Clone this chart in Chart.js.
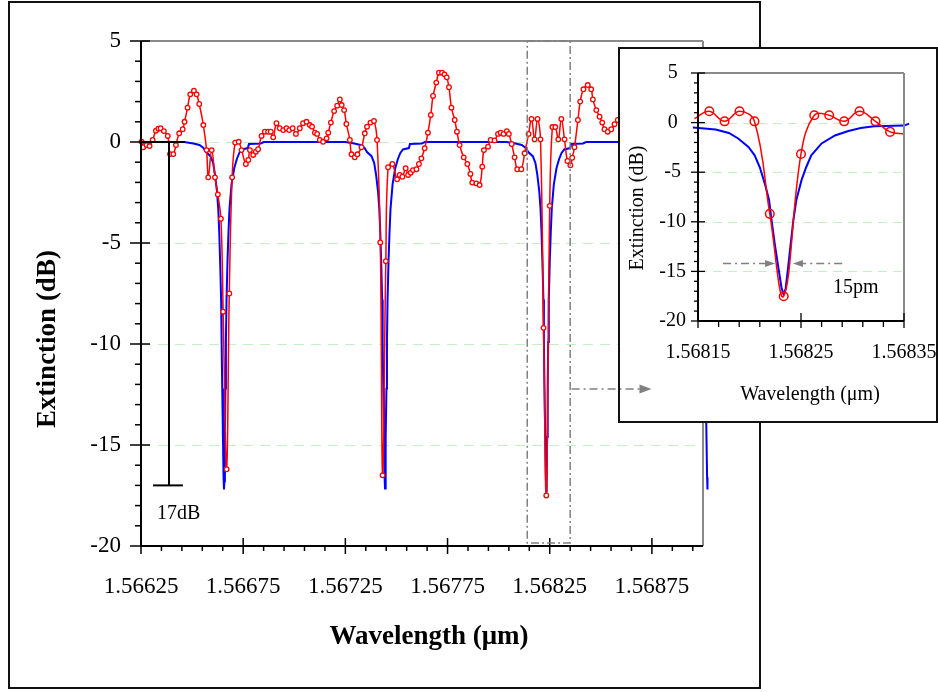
<!DOCTYPE html>
<html>
<head>
<meta charset="utf-8">
<script src="https://cdn.jsdelivr.net/npm/chart.js@4.4.1/dist/chart.umd.min.js"></script>
<style>
  html, body { margin: 0; padding: 0; background: #fff; }
  #page { position: relative; width: 938px; height: 692px; overflow: hidden; background: #fff; }
  #frame { position: absolute; left: 8px; top: 1px; width: 753px; height: 688px; box-sizing: border-box; border: 2px solid #111; }
  #main { position: absolute; left: 0; top: 0; }
  #insetBox { position: absolute; left: 618px; top: 47px; width: 320px; height: 376px; box-sizing: border-box; border: 2px solid #111; background: #fff; }
  #inset { position: absolute; left: 0; top: 0; }
</style>
</head>
<body>
<div id="page">
  <div id="frame"></div>
  <canvas id="main" width="938" height="692"></canvas>
  <div id="insetBox"><canvas id="inset" width="316" height="372"></canvas></div>
</div>
<script>
// measured transmission (red circles), wavelength in um / extinction in dB
const redWl = [
  1.566253, 1.566261, 1.566277, 1.566292, 1.566307, 1.566323, 1.566335, 1.566346, 1.566362, 1.566381,
  1.566392, 1.566408, 1.566421, 1.566437, 1.566454, 1.566463, 1.566478, 1.566491, 1.566509, 1.566522,
  1.566535, 1.566555, 1.566571, 1.566579, 1.566596, 1.566612, 1.566626, 1.566641, 1.566652, 1.566669,
  1.566682, 1.566696, 1.566711, 1.566728, 1.566742, 1.566763, 1.566775, 1.566783, 1.566799, 1.566812,
  1.566823, 1.56684, 1.566856, 1.566872, 1.566885, 1.566897, 1.566913, 1.566929, 1.566946, 1.566962,
  1.566975, 1.566992, 1.567008, 1.567027, 1.567043, 1.56706, 1.567076, 1.567087, 1.567101, 1.567112,
  1.567125, 1.567141, 1.567158, 1.567166, 1.567179, 1.567195, 1.56721, 1.567223, 1.567232, 1.567244,
  1.567255, 1.567272, 1.56728, 1.567296, 1.567309, 1.567329, 1.567345, 1.567356, 1.567373, 1.56739,
  1.567405, 1.567421, 1.567432, 1.567448, 1.567459, 1.56748, 1.567503, 1.567516, 1.567529, 1.567545,
  1.567557, 1.56757, 1.567581, 1.567598, 1.56761, 1.567622, 1.567638, 1.567654, 1.567668, 1.567679,
  1.567695, 1.567708, 1.567723, 1.567735, 1.567746, 1.567757, 1.567769, 1.567785, 1.567796, 1.567809,
  1.567829, 1.567847, 1.567862, 1.567871, 1.567891, 1.567907, 1.56792, 1.567928, 1.567948, 1.567961,
  1.56798, 1.567997, 1.56801, 1.568024, 1.56804, 1.56805, 1.568064, 1.568078, 1.568091, 1.568111,
  1.568127, 1.5681465, 1.568161, 1.5681758, 1.5681903, 1.5682048, 1.5682197, 1.5682332, 1.56825, 1.5682629,
  1.5682774, 1.5682919, 1.5683068, 1.5683223, 1.5683365, 1.568351, 1.56836, 1.568371, 1.568388, 1.568399,
  1.568415, 1.568436, 1.568453, 1.568461, 1.568478, 1.568494, 1.568507, 1.568518, 1.568534, 1.568551,
  1.568567, 1.568583, 1.568598
];
const redDb = [
  0.01, -0.26, -0.15, -0.2, 0.1, 0.56, 0.66, 0.68, 0.54, 0.3,
  -0.6, -0.6, -0.15, 0.43, 0.63, 1.0, 1.7, 2.36, 2.54, 2.36,
  1.88, 0.84, -0.4, -1.75, -0.4, -1.75, -2.6, -3.8, -8.4, -16.2,
  -7.5, -1.75, -0.03, 0.01, -0.4, -1.09, -0.89, -0.4, -0.64, -0.48,
  -0.36, 0.3, 0.51, 0.51, 0.51, 0.23, 0.93, 0.68, 0.59, 0.68,
  0.59, 0.68, 0.4, 0.68, 0.93, 1.0, 0.84, 0.76, 0.46, 0.4,
  0.1, 0.01, 0.18, 0.46, 0.96, 1.53, 1.8, 2.11, 1.83, 1.58,
  0.89, 0.1, -0.61, -0.76, -0.61, -0.26, 0.43, 0.76, 0.96, 1.04,
  0.1, -4.97, -16.5, -5.9, -1.25, -1.09, -1.85, -1.63, -1.72, -1.3,
  -1.63, -1.52, -1.39, -1.35, -1.09, -0.81, -0.31, 0.46, 1.34, 2.28,
  2.94, 3.43, 3.43, 3.35, 3.2, 2.71, 1.7, 1.09, 0.51, -0.15,
  -0.76, -1.09, -1.58, -2.01, -2.05, -2.13, -1.22, -0.4, -0.23, 0.1,
  0.08, 0.4, 0.46, 0.4, 0.54, 0.4, -0.1, -0.76, -1.35, -1.35,
  -0.56, 0.4, 1.14, 0.13, 1.14, 0.13, -9.2, -17.5, -3.16, 0.74,
  0.74, 0.13, 1.14, 0.13, -0.94, -1.15, -0.78, -0.26, 1.09, 2.0,
  2.61, 2.82, 2.61, 2.11, 1.58, 1.25, 0.96, 0.63, 0.51, 0.63,
  0.88, 1.09, 1.2
];

// fitted response (blue line)
const blueWl = [
  1.56625,
  1.566461, 1.566506, 1.566536, 1.566556, 1.566568, 1.56659, 1.566603, 1.566612, 1.566622, 1.566628,
  1.566633, 1.566638, 1.566642, 1.5666445, 1.5666475, 1.566651, 1.566654, 1.566656, 1.566658, 1.5666605,
  1.566663, 1.5666655, 1.5666685, 1.5666735, 1.566678, 1.566683, 1.566693, 1.566706, 1.566719, 1.566731,
  1.566744, 1.566773, 1.566778, 1.566836, 1.566851,
  1.567249, 1.567294, 1.567324, 1.567344, 1.567356, 1.567378, 1.567391, 1.5674, 1.56741, 1.567416,
  1.567421, 1.567426, 1.56743, 1.5674325, 1.5674355, 1.567439, 1.567442, 1.567444, 1.567446, 1.5674485,
  1.567451, 1.5674535, 1.5674565, 1.5674615, 1.567466, 1.567471, 1.567481, 1.567494, 1.567507, 1.567519,
  1.567532, 1.567561, 1.567566, 1.567624, 1.567639,
  1.568038, 1.568083, 1.568113, 1.568133, 1.568145, 1.568167, 1.56818, 1.568189, 1.568199, 1.568205,
  1.56821, 1.568215, 1.568219, 1.5682215, 1.5682245, 1.568228, 1.568231, 1.568233, 1.568235, 1.5682375,
  1.56824, 1.5682425, 1.5682455, 1.5682505, 1.568255, 1.56826, 1.56827, 1.568283, 1.568296, 1.568308,
  1.568321, 1.56835, 1.568355, 1.568413, 1.568428,
  1.568827, 1.568872, 1.568902, 1.568922, 1.568934, 1.568956, 1.568969, 1.568978, 1.568988, 1.568994,
  1.568999, 1.569004, 1.569008, 1.5690105, 1.5690135, 1.569017, 1.56902, 1.569022
];
const blueDb = [
  0,
  0, -0.07, -0.15, -0.3, -0.5, -0.7, -1.04, -1.6, -2.46, -3.3,
  -4.5, -6.2, -7.8, -9.9, -12.2, -14.6, -16.6, -17.2, -16.8, -14.6,
  -12.2, -9.9, -7.8, -5.8, -4.5, -3.3, -2.1, -1.3, -0.84, -0.54,
  -0.37, -0.3, -0.1, -0.07, 0,
  0, -0.07, -0.15, -0.3, -0.5, -0.7, -1.04, -1.6, -2.46, -3.3,
  -4.5, -6.2, -7.8, -9.9, -12.2, -14.6, -16.6, -17.15, -16.8, -14.6,
  -12.2, -9.9, -7.8, -5.8, -4.5, -3.3, -2.1, -1.3, -0.84, -0.54,
  -0.37, -0.3, -0.1, -0.07, 0,
  0, -0.07, -0.15, -0.3, -0.5, -0.7, -1.04, -1.6, -2.46, -3.3,
  -4.5, -6.2, -7.8, -9.9, -12.2, -14.6, -16.6, -17.3, -16.8, -14.6,
  -12.2, -9.9, -7.8, -5.8, -4.5, -3.3, -2.1, -1.3, -0.84, -0.54,
  -0.37, -0.3, -0.1, -0.07, 0,
  0, -0.07, -0.15, -0.3, -0.5, -0.7, -1.04, -1.6, -2.46, -3.3,
  -4.5, -6.2, -7.8, -9.9, -12.2, -14.6, -16.6, -17.2
];

// axes
const mainXRange = [1.56625, 1.569];
const insetXRange = [1.56815, 1.56835];
const mainXTicks = [1.56625, 1.56675, 1.56725, 1.56775, 1.56825, 1.56875];
const mainYTicks = [5, 0, -5, -10, -15, -20];
const insetXTicks = [1.56815, 1.56825, 1.56835];
const insetYTicks = [5, 0, -5, -10, -15, -20];
const gridLevels = [0, -5, -10, -15];

const serif = '"Liberation Serif", "Times New Roman", serif';
const gridColor = '#c4f0c4';
const annoGray = '#808080';

const redPts = redWl.map((w, i) => ({ x: w, y: redDb[i] }));
const bluePts = blueWl.map((w, i) => ({ x: w, y: blueDb[i] }));
const insetRed = redPts.filter(p => p.x >= 1.568146 && p.x <= 1.568352);
const insetBlue = bluePts.filter(p => p.x >= 1.568144 && p.x <= 1.568356);

function seg(ctx, x1, y1, x2, y2) {
  ctx.beginPath(); ctx.moveTo(x1, y1); ctx.lineTo(x2, y2); ctx.stroke();
}

function head(ctx, tx, ty, dir, len, half) {
  ctx.beginPath();
  ctx.moveTo(tx, ty);
  ctx.lineTo(tx - dir * len, ty - half);
  ctx.lineTo(tx - dir * len, ty + half);
  ctx.closePath();
  ctx.fill();
}

// range set after data limits so that points past the edge are still drawn
function fixRange(r) {
  return s => { s.min = r[0]; s.max = r[1]; };
}

function decor(cfg) {
  return {
    id: 'decor',
    beforeDatasetsDraw(chart) {
      const { ctx, chartArea: a, scales: { y } } = chart;
      ctx.save();
      ctx.strokeStyle = gridColor;
      ctx.lineWidth = 1;
      ctx.setLineDash(cfg.gridDash);
      gridLevels.forEach(v => { const py = Math.round(y.getPixelForValue(v)) + 0.5; seg(ctx, a.left, py, a.right, py); });
      ctx.restore();
    },
    afterDatasetsDraw(chart) {
      const { ctx, chartArea: a, scales: { x, y } } = chart;
      ctx.save();
      // plot frame, grey top/right
      ctx.strokeStyle = '#8a8a8a';
      ctx.lineWidth = 2;
      seg(ctx, a.left, a.top, a.right, a.top);
      seg(ctx, a.right, a.top, a.right, a.bottom);
      // axes
      ctx.strokeStyle = '#000';
      ctx.lineWidth = cfg.axisWidth;
      seg(ctx, a.left, a.top, a.left, a.bottom);
      seg(ctx, a.left, a.bottom, a.right, a.bottom);
      ctx.lineWidth = cfg.tickWidth;
      // y ticks, 1 dB minor, 5 dB major
      for (let v = y.min; v <= y.max; v += 1) {
        const py = y.getPixelForValue(v);
        if (v % 5 === 0) seg(ctx, a.left - cfg.yMaj[0], py, a.left + cfg.yMaj[1], py);
        else seg(ctx, a.left - cfg.yMin[0], py, a.left + cfg.yMin[1], py);
      }
      // x ticks
      const n = Math.floor((x.max - x.min) / cfg.xMinorStep + 1e-6);
      for (let k = 0; k <= n; k++) {
        const v = x.min + k * cfg.xMinorStep;
        const px = x.getPixelForValue(v);
        if (k % 5 === 0) seg(ctx, px, a.bottom - cfg.xMaj[0], px, a.bottom + cfg.xMaj[1]);
        else seg(ctx, px, a.bottom - cfg.xMin[0], px, a.bottom + cfg.xMin[1]);
      }
      ctx.restore();
      ctx.save();
      cfg.extra(ctx, x, y);
      ctx.restore();
      // axis titles
      ctx.save();
      ctx.fillStyle = '#000';
      ctx.textAlign = 'center';
      ctx.textBaseline = 'middle';
      ctx.font = cfg.titleFont;
      ctx.fillText(cfg.xTitle.text, cfg.xTitle.x, cfg.xTitle.y);
      ctx.translate(cfg.yTitle.x, cfg.yTitle.y);
      ctx.rotate(-Math.PI / 2);
      ctx.fillText(cfg.yTitle.text, 0, 0);
      ctx.restore();
    }
  };
}

// dash-dot pointer from the zoom window to the inset (main chart values)
function pointer(ctx, x, y, dx, dy) {
  ctx.strokeStyle = annoGray;
  ctx.fillStyle = annoGray;
  ctx.lineWidth = 1.5;
  const ay = y.getPixelForValue(-12.23) - dy;
  const tip = x.getPixelForValue(1.568748) - dx;
  ctx.setLineDash([8, 4, 2, 4]);
  seg(ctx, x.getPixelForValue(1.568357) - dx, ay, tip - 11, ay);
  ctx.setLineDash([]);
  head(ctx, tip, ay, 1, 12, 4.5);
}

function mainExtra(ctx, x, y) {
  // 17 dB depth bar
  ctx.strokeStyle = '#000';
  ctx.lineWidth = 2;
  seg(ctx, x.getPixelForValue(1.566387), y.getPixelForValue(0), x.getPixelForValue(1.566387), y.getPixelForValue(-17));
  seg(ctx, x.getPixelForValue(1.56625), y.getPixelForValue(0), x.getPixelForValue(1.566465), y.getPixelForValue(0));
  seg(ctx, x.getPixelForValue(1.566309), y.getPixelForValue(-17), x.getPixelForValue(1.566455), y.getPixelForValue(-17));
  ctx.fillStyle = '#000';
  ctx.font = '20px ' + serif;
  ctx.textBaseline = 'middle';
  ctx.fillText('17dB', x.getPixelForValue(1.566328), y.getPixelForValue(-18.4));
  // zoom window
  ctx.strokeStyle = annoGray;
  ctx.lineWidth = 1.5;
  ctx.setLineDash([8, 3, 2, 3]);
  const bx1 = x.getPixelForValue(1.56814), bx2 = x.getPixelForValue(1.56835);
  const by1 = y.getPixelForValue(5), by2 = y.getPixelForValue(-19.85);
  ctx.strokeRect(bx1, by1, bx2 - bx1, by2 - by1);
  ctx.setLineDash([]);
  pointer(ctx, x, y, 0, 0);
}

function insetExtra(ctx, x, y) {
  ctx.strokeStyle = annoGray;
  ctx.fillStyle = annoGray;
  ctx.lineWidth = 1.5;
  const fy = y.getPixelForValue(-14.2);
  ctx.setLineDash([8, 4, 2, 4]);
  const lt = x.getPixelForValue(1.5682248), rt = x.getPixelForValue(1.5682422);
  seg(ctx, x.getPixelForValue(1.5681743), fy, lt - 9, fy);
  seg(ctx, x.getPixelForValue(1.56829), fy, rt + 9, fy);
  ctx.setLineDash([]);
  head(ctx, lt, fy, 1, 10, 3.5);
  head(ctx, rt, fy, -1, 10, 3.5);
  ctx.fillStyle = '#000';
  ctx.font = '20px ' + serif;
  ctx.textBaseline = 'middle';
  ctx.fillText('15pm', x.getPixelForValue(1.568281), y.getPixelForValue(-16.6));
  // the pointer arrow runs on top of the inset box
  const box = document.getElementById('inset').getBoundingClientRect();
  const page = document.getElementById('main').getBoundingClientRect();
  pointer(ctx, mainChart.scales.x, mainChart.scales.y, box.left - page.left, box.top - page.top);
}

const mainChart = new Chart(document.getElementById('main'), {
  type: 'line',
  data: {
    datasets: [
      { label: 'measured', data: redPts, borderColor: '#ff0000', borderWidth: 1.5, tension: 0.4,
        pointRadius: 2.3, pointBorderWidth: 1.3, pointBorderColor: '#ff0000', pointBackgroundColor: '#fff',
        clip: false, order: 0 },
      { label: 'fit', data: bluePts, borderColor: '#0000ff', borderWidth: 2, tension: 0,
        pointRadius: 0, clip: false, order: 1 }
    ]
  },
  options: {
    responsive: false,
    animation: false,
    devicePixelRatio: 1,
    layout: { padding: { left: 0, top: 41, right: 235, bottom: 0 } },
    elements: { line: { capBezierPoints: false } },
    plugins: { legend: { display: false }, tooltip: { enabled: false } },
    scales: {
      x: {
        type: 'linear', bounds: 'data',
        afterDataLimits: fixRange(mainXRange),
        afterBuildTicks: s => { s.ticks = mainXTicks.map(v => ({ value: v })); },
        afterFit: s => { s.height = 146; s.paddingLeft = 0; s.paddingRight = 0; },
        grid: { display: false, drawTicks: false }, border: { display: false },
        ticks: { callback: v => Number(v).toFixed(5), color: '#000', font: { family: serif, size: 23 },
                 padding: 27, maxRotation: 0, minRotation: 0, autoSkip: false }
      },
      y: {
        type: 'linear', min: -20, max: 5,
        afterBuildTicks: s => { s.ticks = mainYTicks.map(v => ({ value: v })); },
        afterFit: s => { s.width = 141; },
        grid: { display: false, drawTicks: false }, border: { display: false },
        ticks: { callback: v => String(v), color: '#000', font: { family: serif, size: 23 }, padding: 20 }
      }
    }
  },
  plugins: [decor({
    gridDash: [10, 7], axisWidth: 2, tickWidth: 1.5,
    yMaj: [11, 9], yMin: [6, 1], xMaj: [8, 8], xMin: [0, 5], xMinorStep: 0.0001,
    titleFont: 'bold 27px ' + serif,
    xTitle: { text: 'Wavelength (\u03bcm)', x: 429, y: 637 },
    yTitle: { text: 'Extinction (dB)', x: 48, y: 339 },
    extra: mainExtra
  })]
});

const insetChart = new Chart(document.getElementById('inset'), {
  type: 'line',
  data: {
    datasets: [
      { label: 'measured', data: insetRed, borderColor: '#ff0000', borderWidth: 1.5, tension: 0.4,
        pointRadius: c => (c.raw && c.raw.x >= insetXRange[0] && c.raw.x <= insetXRange[1]) ? 4.3 : 0,
        pointBorderWidth: 1.5, pointBorderColor: '#ff0000', pointBackgroundColor: 'rgba(255,255,255,0)',
        clip: false, order: 0 },
      { label: 'fit', data: insetBlue, borderColor: '#0000ff', borderWidth: 2, tension: 0,
        pointRadius: 0, clip: false, order: 1 }
    ]
  },
  options: {
    responsive: false,
    animation: false,
    devicePixelRatio: 1,
    layout: { padding: { left: 0, top: 24, right: 32, bottom: 0 } },
    elements: { line: { capBezierPoints: false } },
    plugins: { legend: { display: false }, tooltip: { enabled: false } },
    scales: {
      x: {
        type: 'linear', bounds: 'data',
        afterDataLimits: fixRange(insetXRange),
        afterBuildTicks: s => { s.ticks = insetXTicks.map(v => ({ value: v })); },
        afterFit: s => { s.height = 100; s.paddingLeft = 0; s.paddingRight = 0; },
        grid: { display: false, drawTicks: false }, border: { display: false },
        ticks: { callback: v => Number(v).toFixed(5), color: '#000', font: { family: serif, size: 20 },
                 padding: 20, maxRotation: 0, minRotation: 0, autoSkip: false }
      },
      y: {
        type: 'linear', min: -20, max: 5,
        afterBuildTicks: s => { s.ticks = insetYTicks.map(v => ({ value: v })); },
        afterFit: s => { s.width = 78; },
        grid: { display: false, drawTicks: false }, border: { display: false },
        ticks: { callback: v => String(v), color: '#000', font: { family: serif, size: 20 }, padding: 12, crossAlign: 'center' }
      }
    }
  },
  plugins: [decor({
    gridDash: [9, 6], axisWidth: 2, tickWidth: 1.3,
    yMaj: [7, 7], yMin: [4, 1], xMaj: [8, 7], xMin: [0, 6], xMinorStep: 0.00002,
    titleFont: '20px ' + serif,
    xTitle: { text: 'Wavelength (\u03bcm)', x: 190, y: 346 },
    yTitle: { text: 'Extinction (dB)', x: 18, y: 159 },
    extra: insetExtra
  })]
});
</script>
</body>
</html>
